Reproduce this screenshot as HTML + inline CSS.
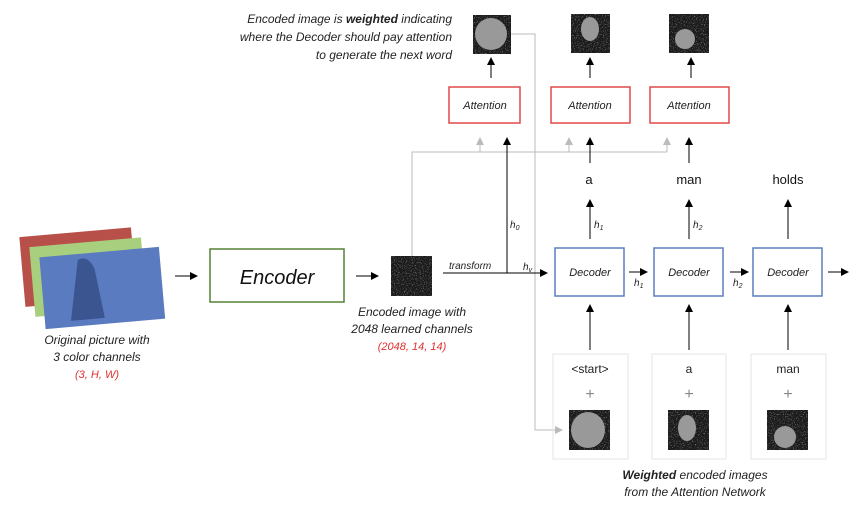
<!DOCTYPE html>
<html><head><meta charset="utf-8"><style>
html,body{margin:0;padding:0;background:#fff;}
svg{display:block;font-family:"Liberation Sans",sans-serif;}
</style></head><body>
<svg width="858" height="511" viewBox="0 0 858 511" xmlns="http://www.w3.org/2000/svg">
<defs>
<marker id="a" markerWidth="8" markerHeight="8" refX="7" refY="4" orient="auto" markerUnits="userSpaceOnUse"><path d="M0,0 L8,4 L0,8 z" fill="#000"/></marker>
<marker id="g" markerWidth="8" markerHeight="8" refX="7" refY="4" orient="auto" markerUnits="userSpaceOnUse"><path d="M0,0 L8,4 L0,8 z" fill="#bbb"/></marker>
<filter id="n" x="0" y="0" width="100%" height="100%"><feTurbulence type="fractalNoise" baseFrequency="0.9" numOctaves="1" result="t"/><feColorMatrix type="matrix" values="0 0 0 0 0.5 0 0 0 0 0.5 0 0 0 0 0.5 0 0 0 1.6 -0.9" in="t" result="c"/><feComposite in="c" in2="SourceGraphic" operator="in" result="d"/><feMerge><feMergeNode in="SourceGraphic"/><feMergeNode in="d"/></feMerge></filter>
</defs>
<!-- pictures -->
<g transform="rotate(-5 80 265)"><rect x="22" y="232" width="112" height="70" fill="#b8504a"/></g>
<g transform="rotate(-5 90 275)"><rect x="32" y="242" width="112" height="70" fill="#a8cf7e"/></g>
<g transform="rotate(-5 102 285)"><rect x="42" y="252" width="120" height="72" fill="#5b7bc0"/><path d="M80,258 q10,-5 16,10 l6,50 h-34 z" fill="#3b5590"/></g>
<line x1="175" y1="276" x2="197" y2="276" stroke="#000" marker-end="url(#a)"/>
<rect x="210" y="249" width="134" height="53" fill="#fff" stroke="#548235" stroke-width="1.5"/>
<text x="277" y="284" font-size="20" font-style="italic" text-anchor="middle" fill="#111">Encoder</text>
<line x1="356" y1="276" x2="378" y2="276" stroke="#000" marker-end="url(#a)"/>
<rect x="391" y="256" width="41" height="40" fill="#1a1a1a" filter="url(#n)"/>
<g font-size="12" font-style="italic" text-anchor="middle" fill="#222">
<text x="412" y="316">Encoded image with</text><text x="412" y="333">2048 learned channels</text>
<text x="412" y="350" fill="#e03030" font-size="11">(2048, 14, 14)</text>
<text x="97" y="344">Original picture with</text><text x="97" y="361">3 color channels</text>
<text x="97" y="378" fill="#e03030" font-size="11">(3, H, W)</text>
<text x="695" y="479"><tspan font-weight="bold">Weighted</tspan> encoded images</text>
<text x="695" y="496">from the Attention Network</text>
</g>
<g font-size="12" font-style="italic" text-anchor="end" fill="#222">
<text x="452" y="23">Encoded image is <tspan font-weight="bold">weighted</tspan> indicating</text>
<text x="452" y="41">where the Decoder should pay attention</text>
<text x="452" y="59">to generate the next word</text>
</g>
<!-- gray lines -->
<g stroke="#bbb" fill="none">
<polyline points="511,34 535,34 535,430 562,430" marker-end="url(#g)"/>
<polyline points="412,256 412,152 667,152"/>
<line x1="480" y1="152" x2="480" y2="138" marker-end="url(#g)"/>
<line x1="569" y1="152" x2="569" y2="138" marker-end="url(#g)"/>
<line x1="667" y1="152" x2="667" y2="138" marker-end="url(#g)"/>
</g>
<!-- transform -->
<g stroke="#000" fill="none">
<line x1="443" y1="273" x2="547" y2="273" marker-end="url(#a)"/>
<line x1="507" y1="273" x2="507" y2="138" marker-end="url(#a)"/>
<line x1="590" y1="163" x2="590" y2="138" marker-end="url(#a)"/>
<line x1="689" y1="163" x2="689" y2="138" marker-end="url(#a)"/>
<line x1="491" y1="78" x2="491" y2="58" marker-end="url(#a)"/>
<line x1="590" y1="78" x2="590" y2="58" marker-end="url(#a)"/>
<line x1="691" y1="78" x2="691" y2="58" marker-end="url(#a)"/>
<line x1="590" y1="239" x2="590" y2="200" marker-end="url(#a)"/>
<line x1="689" y1="239" x2="689" y2="200" marker-end="url(#a)"/>
<line x1="788" y1="239" x2="788" y2="200" marker-end="url(#a)"/>
<line x1="629" y1="272" x2="647" y2="272" marker-end="url(#a)"/>
<line x1="730" y1="272" x2="748" y2="272" marker-end="url(#a)"/>
<line x1="828" y1="272" x2="848" y2="272" marker-end="url(#a)"/>
<line x1="590" y1="350" x2="590" y2="305" marker-end="url(#a)"/>
<line x1="689" y1="350" x2="689" y2="305" marker-end="url(#a)"/>
<line x1="788" y1="350" x2="788" y2="305" marker-end="url(#a)"/>
</g>
<g font-size="10" font-style="italic" fill="#222">
<text x="449" y="269">transform</text>
<text x="523" y="270">h<tspan font-size="7" dy="2">v</tspan></text>
<text x="510" y="228">h<tspan font-size="7" dy="2">0</tspan></text>
<text x="594" y="228">h<tspan font-size="7" dy="2">1</tspan></text>
<text x="693" y="228">h<tspan font-size="7" dy="2">2</tspan></text>
<text x="634" y="286">h<tspan font-size="7" dy="2">1</tspan></text>
<text x="733" y="286">h<tspan font-size="7" dy="2">2</tspan></text>
</g>
<!-- attention -->
<g fill="#fff" stroke="#e04848" stroke-width="1.5">
<rect x="449" y="87" width="71" height="36"/><rect x="551" y="87" width="79" height="36"/><rect x="650" y="87" width="79" height="36"/>
</g>
<g font-size="11" font-style="italic" text-anchor="middle" fill="#222">
<text x="485" y="109">Attention</text><text x="590" y="109">Attention</text><text x="689" y="109">Attention</text>
</g>
<!-- decoders -->
<g fill="#fff" stroke="#5b7fbf" stroke-width="1.5">
<rect x="555" y="248" width="69" height="48"/><rect x="654" y="248" width="69" height="48"/><rect x="753" y="248" width="69" height="48"/>
</g>
<g font-size="11" font-style="italic" text-anchor="middle" fill="#222">
<text x="590" y="276">Decoder</text><text x="689" y="276">Decoder</text><text x="788" y="276">Decoder</text>
</g>
<g font-size="13" text-anchor="middle" fill="#111">
<text x="589" y="184">a</text><text x="689" y="184">man</text><text x="788" y="184">holds</text>
</g>
<!-- inputs -->
<g fill="none" stroke="#e4e4e4">
<rect x="553" y="354" width="75" height="105"/><rect x="652" y="354" width="74" height="105"/><rect x="751" y="354" width="75" height="105"/>
</g>
<g font-size="12" text-anchor="middle" fill="#222">
<text x="590" y="373">&lt;start&gt;</text><text x="689" y="373">a</text><text x="788" y="373">man</text>
</g>
<g font-size="16" text-anchor="middle" fill="#888">
<text x="590" y="399">+</text><text x="689" y="399">+</text><text x="788" y="399">+</text>
</g>
<!-- images -->
<g fill="#1a1a1a" filter="url(#n)">
<rect x="473" y="15" width="38" height="39"/><rect x="571" y="14" width="39" height="39"/><rect x="669" y="14" width="40" height="39"/>
<rect x="569" y="410" width="41" height="40"/><rect x="668" y="410" width="41" height="40"/><rect x="767" y="410" width="41" height="40"/>
</g>
<g fill="#999">
<circle cx="491" cy="34" r="16"/><ellipse cx="590" cy="29" rx="9" ry="12"/><circle cx="685" cy="39" r="10"/>
<ellipse cx="588" cy="430" rx="17" ry="18"/><ellipse cx="687" cy="428" rx="9" ry="13"/><circle cx="785" cy="437" r="11"/>
</g>
</svg>
</body></html>
